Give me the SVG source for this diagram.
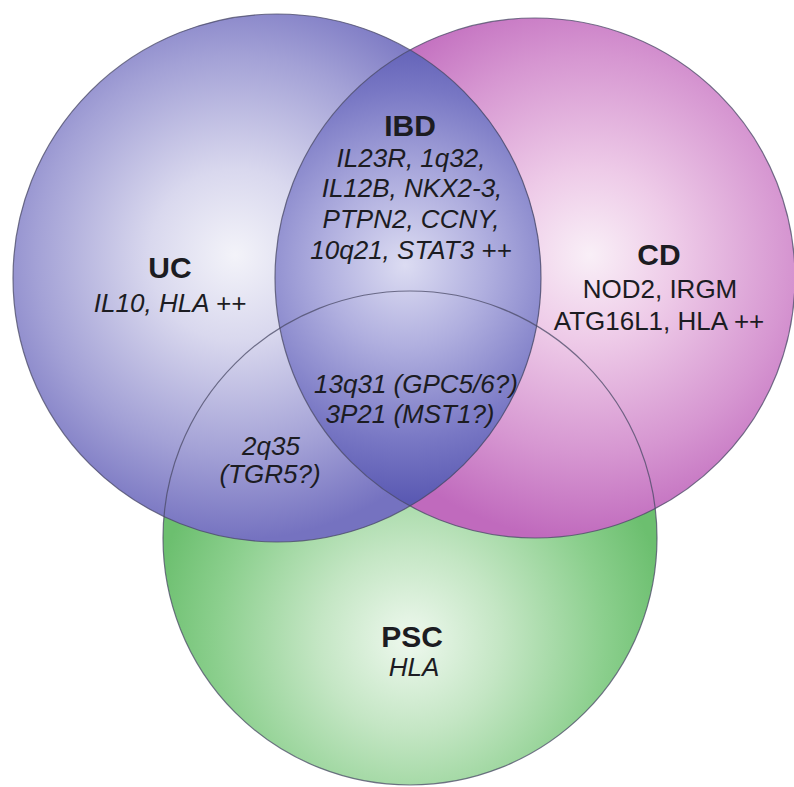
<svg xmlns="http://www.w3.org/2000/svg" width="794" height="787" viewBox="0 0 794 787">
  <style>
    text { font-family: "Liberation Sans", Arial, sans-serif; fill: #1c1c22; text-anchor: middle; }
    .title { font-size: 30px; font-weight: bold; }
    .gene { font-size: 26px; font-style: italic; }
    .plain { font-size: 26px; }
    .outline { fill: none; stroke: #4a4a66; stroke-width: 1.2; stroke-opacity: 0.75; }
  </style>
  <defs>
    <radialGradient id="gUC" gradientUnits="userSpaceOnUse" cx="235" cy="255" r="285">
      <stop offset="0" stop-color="#f3f3f9"/>
      <stop offset="0.3" stop-color="#d9d8ee"/>
      <stop offset="0.7" stop-color="#a3a1d6"/>
      <stop offset="1" stop-color="#7572c0"/>
    </radialGradient>
    <radialGradient id="gCD" gradientUnits="userSpaceOnUse" cx="590" cy="255" r="285">
      <stop offset="0" stop-color="#f9eff7"/>
      <stop offset="0.3" stop-color="#eecbe8"/>
      <stop offset="0.7" stop-color="#d696d1"/>
      <stop offset="1" stop-color="#c06abd"/>
    </radialGradient>
    <radialGradient id="gPSC" gradientUnits="userSpaceOnUse" cx="410" cy="640" r="260">
      <stop offset="0" stop-color="#eef8ee"/>
      <stop offset="0.35" stop-color="#c4e6c4"/>
      <stop offset="0.75" stop-color="#8bcf8d"/>
      <stop offset="1" stop-color="#6cbf6f"/>
    </radialGradient>
    <radialGradient id="gIBD" gradientUnits="userSpaceOnUse" cx="405" cy="265" r="235">
      <stop offset="0" stop-color="#dcdcf2"/>
      <stop offset="0.35" stop-color="#b0afdf"/>
      <stop offset="0.75" stop-color="#7877c4"/>
      <stop offset="1" stop-color="#5b5ab3"/>
    </radialGradient>
    <clipPath id="clipCD">
      <circle cx="535" cy="278" r="260"/>
    </clipPath>
  </defs>

  <rect width="794" height="787" fill="#ffffff"/>

  <g id="psc">
    <circle cx="410" cy="538" r="247" fill="url(#gPSC)"/>
  </g>
  <g id="cd">
    <circle cx="535" cy="278" r="260" fill="url(#gCD)"/>
  </g>
  <g id="uc">
    <circle cx="277" cy="278" r="264" fill="url(#gUC)"/>
  </g>
  <g id="ibd">
    <circle cx="277" cy="278" r="264" fill="url(#gIBD)" clip-path="url(#clipCD)"/>
  </g>

  <g id="outlines">
    <circle class="outline" cx="410" cy="538" r="247"/>
    <circle class="outline" cx="535" cy="278" r="260"/>
    <circle class="outline" cx="277" cy="278" r="264"/>
  </g>

  <g id="connectors"/>

  <g id="labels-uc">
    <text class="title" x="170" y="278">UC</text>
    <text class="gene" x="170" y="312">IL10, HLA ++</text>
  </g>
  <g id="labels-ibd">
    <text class="title" x="410" y="136">IBD</text>
    <text class="gene" x="411" y="167">IL23R, 1q32,</text>
    <text class="gene" x="412" y="197">IL12B, NKX2-3,</text>
    <text class="gene" x="411" y="228">PTPN2, CCNY,</text>
    <text class="gene" x="411" y="259">10q21, STAT3 ++</text>
  </g>
  <g id="labels-cd">
    <text class="title" x="659" y="265">CD</text>
    <text class="plain" x="660" y="298">NOD2, IRGM</text>
    <text class="plain" x="659" y="330">ATG16L1, HLA ++</text>
  </g>
  <g id="labels-triple">
    <text class="gene" x="416" y="393">13q31 (GPC5/6?)</text>
    <text class="gene" x="410" y="423">3P21 (MST1?)</text>
  </g>
  <g id="labels-uc-psc">
    <text class="gene" x="271" y="455">2q35</text>
    <text class="gene" x="270" y="483">(TGR5?)</text>
  </g>
  <g id="labels-psc">
    <text class="title" x="412" y="647">PSC</text>
    <text class="gene" x="414" y="676">HLA</text>
  </g>
</svg>
